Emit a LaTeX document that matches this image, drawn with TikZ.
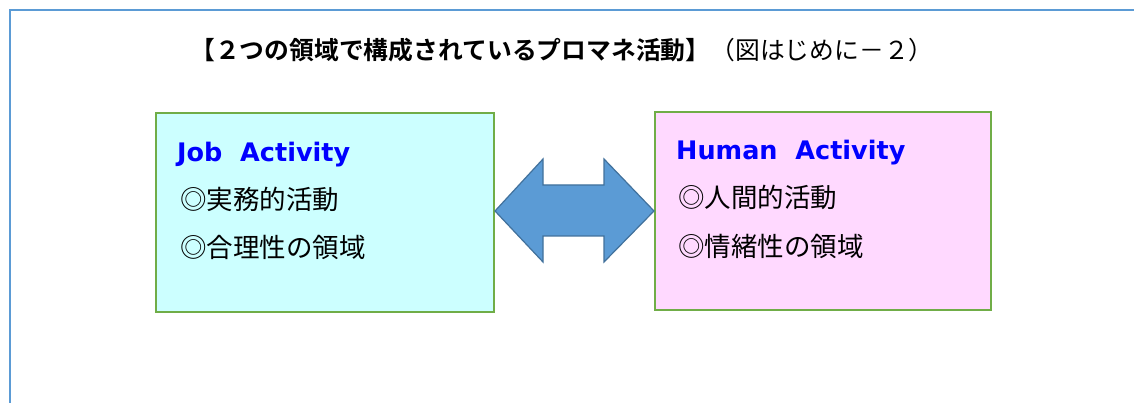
\documentclass[tikz,border=0pt]{standalone}
\usepackage{fontspec}
\newfontfamily\jp{Noto Sans CJK JP}
\newfontfamily\jpb{Noto Sans CJK JP Bold}
\newfontfamily\lat{DejaVu Sans}
\definecolor{frameblue}{HTML}{5B9BD5}
\definecolor{boxgreen}{HTML}{70AD47}
\definecolor{cyanfill}{HTML}{CCFFFF}
\definecolor{pinkfill}{HTML}{FFD9FF}
\definecolor{arrowfill}{HTML}{5B9BD5}
\definecolor{arrowdraw}{HTML}{41719C}
\begin{document}
\begin{tikzpicture}[x=1pt,y=-1pt,
  panel/.style={draw=boxgreen,line width=2pt,inner sep=0pt,anchor=north west},
  head/.style={anchor=base west,inner sep=0pt,text=blue,font=\lat\bfseries\fontsize{25.5}{30}\selectfont},
  item/.style={anchor=base west,inner sep=0pt,font=\jp\fontsize{26.5}{30}\selectfont}]
\useasboundingbox (0,0) rectangle (1134,403);
\fill[white] (0,0) rectangle (1134,403);
\draw[frameblue,line width=2pt] (1134,10) -- (10,10) -- (10,403);
\node[inner sep=0pt,anchor=base] (title) at (562,60)
  {\jpb\fontsize{24.8}{28}\selectfont【２つの領域で構成されているプロマネ活動】\jp（図はじめに－２）};
\node[panel,fill=cyanfill,minimum width=338pt,minimum height=199pt] (left) at (155,112) {};
\node[panel,fill=pinkfill,minimum width=336pt,minimum height=198pt] (right) at (654,111) {};
\node[head] (lh) at (177,162) {Job\ \ Activity};
\node[item] (l1) at (180,210) {◎実務的活動};
\node[item] (l2) at (180,258) {◎合理性の領域};
\node[head] (rh) at (676,160) {Human\ \ Activity};
\node[item] (r1) at (678,208) {◎人間的活動};
\node[item] (r2) at (678,256) {◎情緒性の領域};
\draw[fill=arrowfill,draw=arrowdraw,line width=1.2pt,line join=miter]
  (left.east |- 0,211) -- (543,159) -- (543,185) -- (604,185) -- (604,159) -- (right.west |- 0,211)
  -- (604,262) -- (604,236) -- (543,236) -- (543,262) -- cycle;
\end{tikzpicture}
\end{document}
